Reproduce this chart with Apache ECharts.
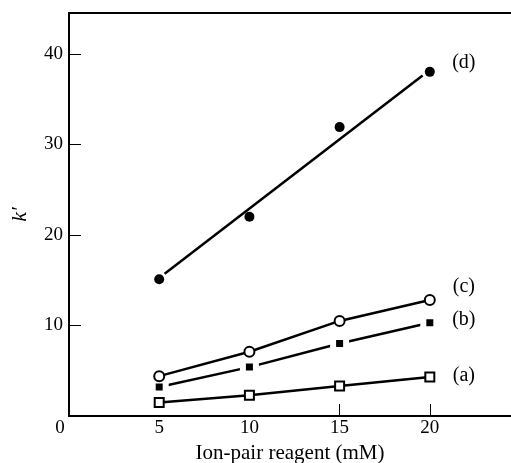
<!DOCTYPE html>
<html>
<head>
<meta charset="utf-8">
<script src="https://cdn.jsdelivr.net/npm/echarts@6/dist/echarts.min.js"></script>
<style>
  html, body { margin: 0; padding: 0; background: #fff; }
  #chart { width: 511px; height: 463px; }
</style>
</head>
<body>
<div id="chart"></div>
<script>
// concentrations of ion-pair reagent (mM)
const xValues = [5, 10, 15, 20]

// k' values
const seriesA = [1.5, 2.3, 3.3, 4.3]
const seriesB = [3.2, 5.4, 8.0, 10.3]
const seriesC = [4.4, 7.1, 10.5, 12.8]
const seriesD = [15.1, 22.0, 31.9, 38.0]

// drawn line through (d): its two end points
const lineD = [[5.3, 15.7], [19.6, 37.6]]

const xTicks = [0, 5, 10, 15, 20]
const yTicks = [10, 20, 30, 40]
const labels = ['(a)', '(b)', '(c)', '(d)']

const serif = 'Liberation Serif'
const black = '#000'

const pairs = vals => vals.map((v, i) => [xValues[i], v])

// put the curve label on the last point of a series
const withEndLabel = (data, text, offset) => {
  const last = data.length - 1
  return data.map((d, i) => i !== last ? d : {
    value: d,
    label: {
      show: true,
      formatter: text,
      position: 'inside',
      offset: offset,
      color: black,
      fontFamily: serif,
      fontSize: 20
    }
  })
}

const chart = echarts.init(document.getElementById('chart'), null, { renderer: 'canvas' })

const option = {
  backgroundColor: '#fff',
  animation: false,
  grid: { left: 69, top: 13, right: 0, bottom: 47, outerBoundsMode: 'none' },
  xAxis: [{
    type: 'value',
    min: 0,
    max: 24.5,
    interval: 5,
    name: 'Ion-pair reagent (mM)',
    nameLocation: 'middle',
    nameGap: 27,
    nameTextStyle: { fontFamily: serif, fontSize: 21, color: black },
    axisLine: { lineStyle: { color: black, width: 2 } },
    axisTick: { inside: true, length: 12, customValues: [15, 20], lineStyle: { color: black, width: 1 } },
    axisLabel: {
      customValues: xTicks,
      color: black,
      fontFamily: serif,
      fontSize: 19,
      margin: 3,
      formatter: v => v === 0 ? '{z|0}' : String(v),
      rich: { z: { fontFamily: serif, fontSize: 19, color: black, padding: [0, 18, 0, 0] } }
    },
    splitLine: { show: false }
  }, {
    type: 'value',
    position: 'top',
    min: 0,
    max: 24.5,
    axisLine: { lineStyle: { color: black, width: 2 } },
    axisTick: { show: false },
    axisLabel: { show: false },
    splitLine: { show: false }
  }],
  yAxis: {
    type: 'value',
    min: 0,
    max: 44.5,
    interval: 10,
    name: "k\u2032",
    nameLocation: 'middle',
    nameRotate: 90,
    nameGap: 38,
    nameTextStyle: { fontFamily: serif, fontStyle: 'italic', fontSize: 22, color: black },
    axisLine: { lineStyle: { color: black, width: 2 } },
    axisTick: { inside: true, length: 12, customValues: yTicks, lineStyle: { color: black, width: 1 } },
    axisLabel: {
      customValues: yTicks,
      color: black,
      fontFamily: serif,
      fontSize: 19,
      margin: 6
    },
    splitLine: { show: false }
  },
  series: [
    {
      name: labels[0],
      type: 'line',
      data: withEndLabel(pairs(seriesA), labels[0], [34, -1]),
      symbol: 'emptyRect',
      symbolSize: 9,
      lineStyle: { color: black, width: 2.5 },
      itemStyle: { color: black, borderWidth: 1.5 }
    },
    {
      name: labels[1],
      type: 'line',
      data: withEndLabel(pairs(seriesB), labels[1], [34, -3]),
      symbol: 'rect',
      symbolSize: 13,
      lineStyle: { color: black, width: 2.5 },
      itemStyle: { color: black, borderColor: '#fff', borderWidth: 6 }
    },
    {
      name: labels[2],
      type: 'line',
      data: withEndLabel(pairs(seriesC), labels[2], [34, -13]),
      symbol: 'emptyCircle',
      symbolSize: 10,
      lineStyle: { color: black, width: 2.5 },
      itemStyle: { color: black, borderWidth: 1.5 }
    },
    {
      name: 'fit d',
      type: 'line',
      data: lineD,
      symbol: 'none',
      lineStyle: { color: black, width: 2.5 }
    },
    {
      name: labels[3],
      type: 'scatter',
      data: withEndLabel(pairs(seriesD), labels[3], [34, -9]),
      symbol: 'circle',
      symbolSize: 10,
      itemStyle: { color: black, opacity: 1 }
    }
  ]
}

chart.setOption(option)
</script>
</body>
</html>
